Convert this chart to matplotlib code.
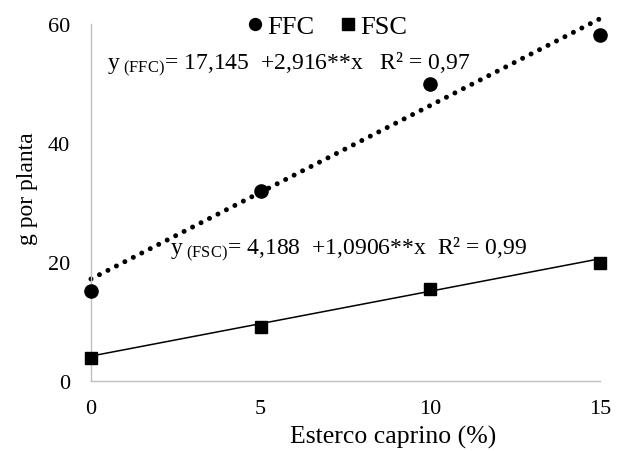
import matplotlib
matplotlib.use("Agg")
import matplotlib.pyplot as plt
import numpy as np

plt.rcParams['font.family'] = ['Liberation Serif', 'DejaVu Serif']
plt.rcParams['mathtext.fontset'] = 'custom'
plt.rcParams['mathtext.rm'] = 'Liberation Serif'
plt.rcParams['mathtext.it'] = 'Liberation Serif'

x = [0, 5, 10, 15]
ffc = [15.2, 31.9, 50.0, 58.2]
fsc = [3.9, 9.1, 15.4, 19.8]
ffc_coef = (17.145, 2.916)
fsc_coef = (4.188, 1.0906)
xticks = [0, 5, 10, 15]
yticks = [0, 20, 40, 60]

W, H = 621, 452
fig = plt.figure(figsize=(W / 100, H / 100), dpi=100)
ax = fig.add_axes([91 / W, 1 - 382 / H, (600 - 91) / W, (382 - 25) / H])

xs = np.array([0, 15])
ax.plot(xs, ffc_coef[0] + ffc_coef[1] * xs, color='black', linestyle=(0, (0.001, 1.9)),
        linewidth=3.6, dash_capstyle='round', zorder=2)
ax.plot(xs, fsc_coef[0] + fsc_coef[1] * xs, color='black', linewidth=1.1, zorder=2)
ax.plot(x, ffc, 'o', color='black', markersize=9.5, linestyle='none', label='FFC', zorder=3)
ax.plot(x, fsc, 's', color='black', markersize=9.3, linestyle='none', label='FSC', zorder=3)

ax.set_xlim(0, 15)
ax.set_ylim(0, 60)
ax.set_xticks(xticks)
ax.set_yticks(yticks)
ax.tick_params(length=0, labelsize=16)
ax.tick_params(axis='y', pad=15)
ax.tick_params(axis='x', pad=13)
for s in ['top', 'right']:
    ax.spines[s].set_visible(False)
for s in ['left', 'bottom']:
    ax.spines[s].set_color('#bfbfbf')
    ax.spines[s].set_linewidth(1.0)
for l in ax.lines:
    l.set_clip_on(False)

fig.text(393.5 / W, 1 - 437 / H, 'Esterco caprino (%)', fontsize=18.5, ha='center', va='center')
fig.text(28 / W, 1 - 189 / H, 'g por planta', fontsize=17, ha='center', va='center', rotation=90)

leg = ax.legend(loc='center', bbox_to_anchor=(326 / W, 1 - 27 / H), bbox_transform=fig.transFigure,
                ncol=2, frameon=False, fontsize=19, handletextpad=0.05, columnspacing=0.9,
                handlelength=0.8, markerscale=0.9, borderpad=0, borderaxespad=0)

ax.text(0.47, 53.3, r"y$_{\mathrm{\ (FFC)}}$= 17,145  +2,916**x   R² = 0,97", fontsize=17,
        va='center', ha='left')
ax.text(2.32, 22.2, r"y$_{\mathrm{\ (FSC)}}$= 4,188  +1,0906**x  R² = 0,99", fontsize=17,
        va='center', ha='left')

fig.savefig('out.png', dpi=100)
